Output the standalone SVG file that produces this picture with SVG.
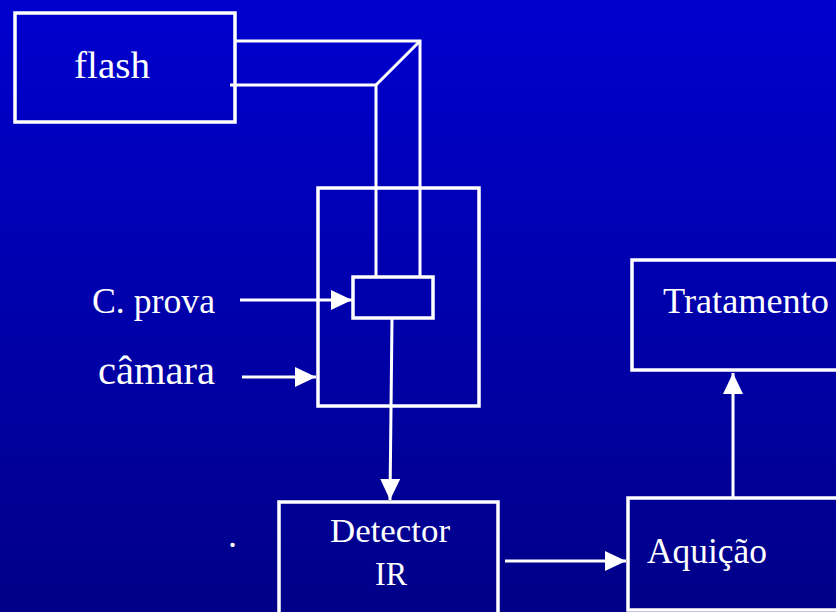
<svg xmlns="http://www.w3.org/2000/svg" width="836" height="612" viewBox="0 0 836 612">
<defs>
<linearGradient id="bg" x1="0" y1="0" x2="0" y2="1">
<stop offset="0" stop-color="#0000CF"/>
<stop offset="1" stop-color="#000088"/>
</linearGradient>
<marker id="ah" markerUnits="userSpaceOnUse" markerWidth="22" markerHeight="22" viewBox="0 0 22 22" refX="21" refY="11" orient="auto">
<path d="M0,1 L21,11 L0,21 Z" fill="#fff"/>
</marker>
<style>
.box{fill:none;stroke:#fff;stroke-width:3.5}
.ln{fill:none;stroke:#fff;stroke-width:3}
.t{fill:#fff;font-family:"Liberation Serif","Times New Roman",serif;font-size:36px}
</style>
</defs>
<rect width="836" height="612" fill="url(#bg)"/>
<g id="flash">
<rect class="box" x="15" y="13" width="220" height="109"/>
<text class="t" x="74" y="78" style="font-size:38px" textLength="76" lengthAdjust="spacingAndGlyphs">flash</text>
</g>
<g id="camara">
<rect class="box" x="318" y="188" width="161" height="218"/>
</g>
<g id="cprova">
<rect class="box" x="353" y="277" width="80" height="41"/>
</g>
<g id="label-cprova"><text class="t" x="92" y="313" textLength="123" lengthAdjust="spacingAndGlyphs">C. prova</text></g>
<g id="label-camara"><text class="t" x="98" y="384" style="font-size:40px" textLength="117" lengthAdjust="spacingAndGlyphs">câmara</text></g>
<g id="detector">
<rect class="box" x="279" y="502" width="219" height="120"/>
<text class="t" x="330" y="542" style="font-size:34px" textLength="120" lengthAdjust="spacingAndGlyphs">Detector</text>
<text class="t" x="375" y="585" style="font-size:34px" textLength="32" lengthAdjust="spacingAndGlyphs">IR</text>
</g>
<g id="aquicao">
<rect class="box" x="628" y="498" width="220" height="112"/>
<text class="t" x="647" y="563" style="font-size:35px" textLength="120" lengthAdjust="spacingAndGlyphs">Aquição</text>
</g>
<g id="tratamento">
<rect class="box" x="632" y="260" width="220" height="110"/>
<text class="t" x="663" y="313" textLength="166" lengthAdjust="spacingAndGlyphs">Tratamento</text>
</g>
<g id="dot"><text class="t" x="228" y="547">.</text></g>
<g id="connectors">
<polyline class="ln" points="235,41 420,41 420,277"/>
<polyline class="ln" points="230,85 376,85 376,277"/>
<line class="ln" x1="376" y1="85" x2="420" y2="41"/>
<line class="ln" x1="240" y1="300" x2="352" y2="300" marker-end="url(#ah)"/>
<line class="ln" x1="242" y1="377" x2="316" y2="377" marker-end="url(#ah)"/>
<line class="ln" x1="392" y1="318" x2="390" y2="500" marker-end="url(#ah)"/>
<line class="ln" x1="505" y1="561" x2="626" y2="561" marker-end="url(#ah)"/>
<line class="ln" x1="733" y1="497" x2="733" y2="373" marker-end="url(#ah)"/>
</g>
</svg>
